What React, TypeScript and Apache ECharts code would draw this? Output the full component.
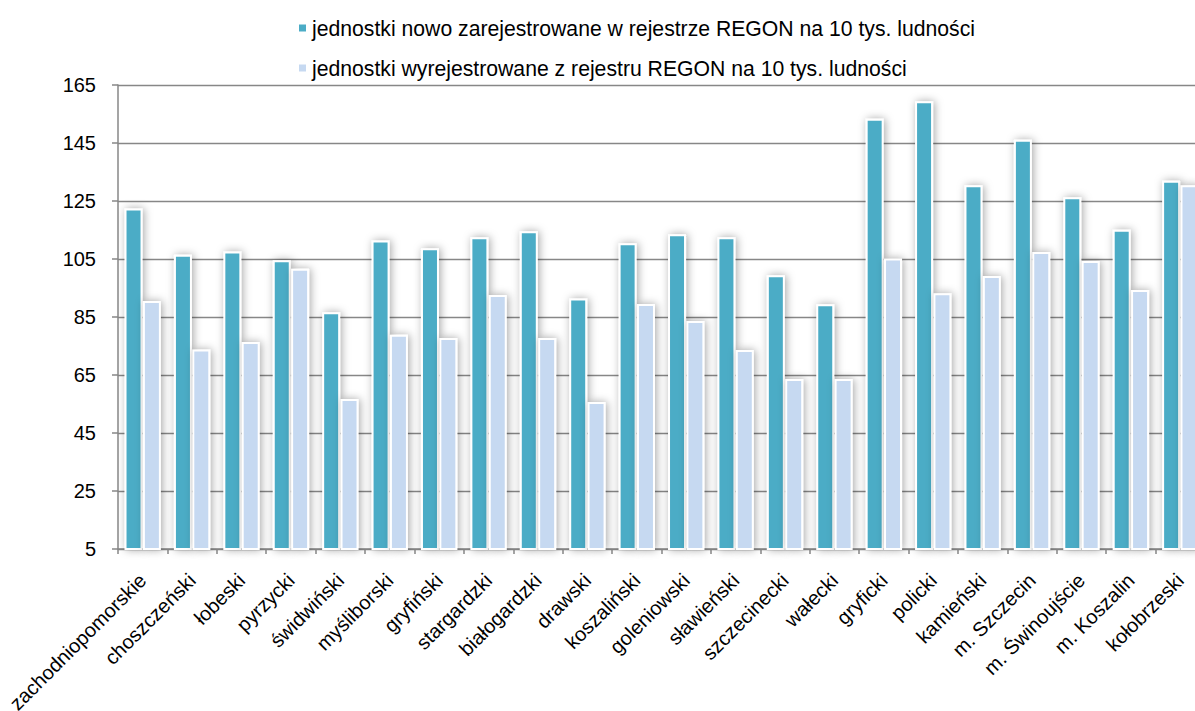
import React, { useEffect, useRef } from "react";
import * as echarts from "echarts";

// Powiaty / miasta województwa zachodniopomorskiego
const categories: string[] = [
  "zachodniopomorskie",
  "choszczeński",
  "łobeski",
  "pyrzycki",
  "świdwiński",
  "myśliborski",
  "gryfiński",
  "stargardzki",
  "białogardzki",
  "drawski",
  "koszaliński",
  "goleniowski",
  "sławieński",
  "szczecinecki",
  "wałecki",
  "gryficki",
  "policki",
  "kamieński",
  "m. Szczecin",
  "m. Świnoujście",
  "m. Koszalin",
  "kołobrzeski",
];

const seriesNames: string[] = [
  "jednostki nowo zarejestrowane w rejestrze REGON na 10 tys. ludności",
  "jednostki wyrejestrowane z rejestru REGON na 10 tys. ludności",
];

const registered: number[] = [
  122.4, 106.5, 107.6, 104.6, 86.6, 111.4, 108.7, 112.5, 114.6, 91.4, 110.4,
  113.5, 112.5, 99.4, 89.4, 153.4, 159.4, 130.4, 146.1, 126.3, 115.1, 132.0,
];

const deregistered: number[] = [
  90.5, 73.8, 76.4, 101.6, 56.7, 78.9, 77.8, 92.6, 77.8, 55.7, 89.5, 83.6,
  73.6, 63.6, 63.6, 105.2, 93.2, 99.1, 107.4, 104.3, 94.3, 130.4,
];

const yMin = 5;
const yMax = 165;
const yStep = 20;

const FONT = "'Liberation Sans', Arial, sans-serif";
const colors = ["#4BACC6", "#C6D9F1"];

export default function App() {
  const ref = useRef<HTMLDivElement>(null);

  useEffect(() => {
    if (!ref.current) return;
    const chart = echarts.init(ref.current, undefined, { renderer: "svg" });

    const barStyle = (color: string) => ({
      color,
      borderColor: "#ffffff",
      borderWidth: 2,
      shadowColor: "rgba(0,0,0,0.35)",
      shadowBlur: 8,
      shadowOffsetX: 1.5,
      shadowOffsetY: 0,
    });

    chart.setOption({
      animation: false,
      backgroundColor: "#ffffff",
      legend: {
        orient: "vertical",
        left: 292,
        top: 11,
        itemWidth: 9,
        itemHeight: 9,
        itemGap: 16,
        icon: "rect",
        textStyle: {
          fontFamily: FONT,
          fontSize: 21.2,
          lineHeight: 24,
          color: "#000000",
        },
        data: seriesNames,
      },
      grid: {
        left: 118,
        top: 85,
        right: -10,
        bottom: 162,
        containLabel: false,
        outerBoundsMode: "none",
      },
      xAxis: {
        type: "category",
        data: categories,
        boundaryGap: true,
        axisLine: { lineStyle: { color: "#878787", width: 1.5 } },
        axisTick: {
          show: true,
          length: 5,
          alignWithLabel: false,
          lineStyle: { color: "#878787", width: 1.5 },
        },
        axisLabel: {
          interval: 0,
          rotate: 45,
          margin: 28,
          fontFamily: FONT,
          fontSize: 20,
          color: "#000000",
        },
      },
      yAxis: {
        type: "value",
        min: yMin,
        max: yMax,
        interval: yStep,
        axisLine: { show: true, lineStyle: { color: "#878787", width: 1.5 } },
        axisTick: {
          show: true,
          length: 6,
          lineStyle: { color: "#878787", width: 1.5 },
        },
        axisLabel: {
          margin: 22,
          fontFamily: FONT,
          fontSize: 20,
          color: "#000000",
        },
        splitLine: { lineStyle: { color: "#878787", width: 1.3 } },
      },
      series: [
        {
          name: seriesNames[0],
          type: "bar",
          data: registered,
          barWidth: 18,
          barGap: "2%",
          itemStyle: barStyle(colors[0]),
        },
        {
          name: seriesNames[1],
          type: "bar",
          data: deregistered,
          barWidth: 18,
          barGap: "2%",
          itemStyle: barStyle(colors[1]),
        },
      ],
    });

    return () => {
      chart.dispose();
    };
  }, []);

  return (
    <div
      ref={ref}
      style={{
        position: "fixed",
        left: 0,
        top: 0,
        width: 1195,
        height: 711,
        overflow: "hidden",
        background: "#ffffff",
      }}
    />
  );
}
